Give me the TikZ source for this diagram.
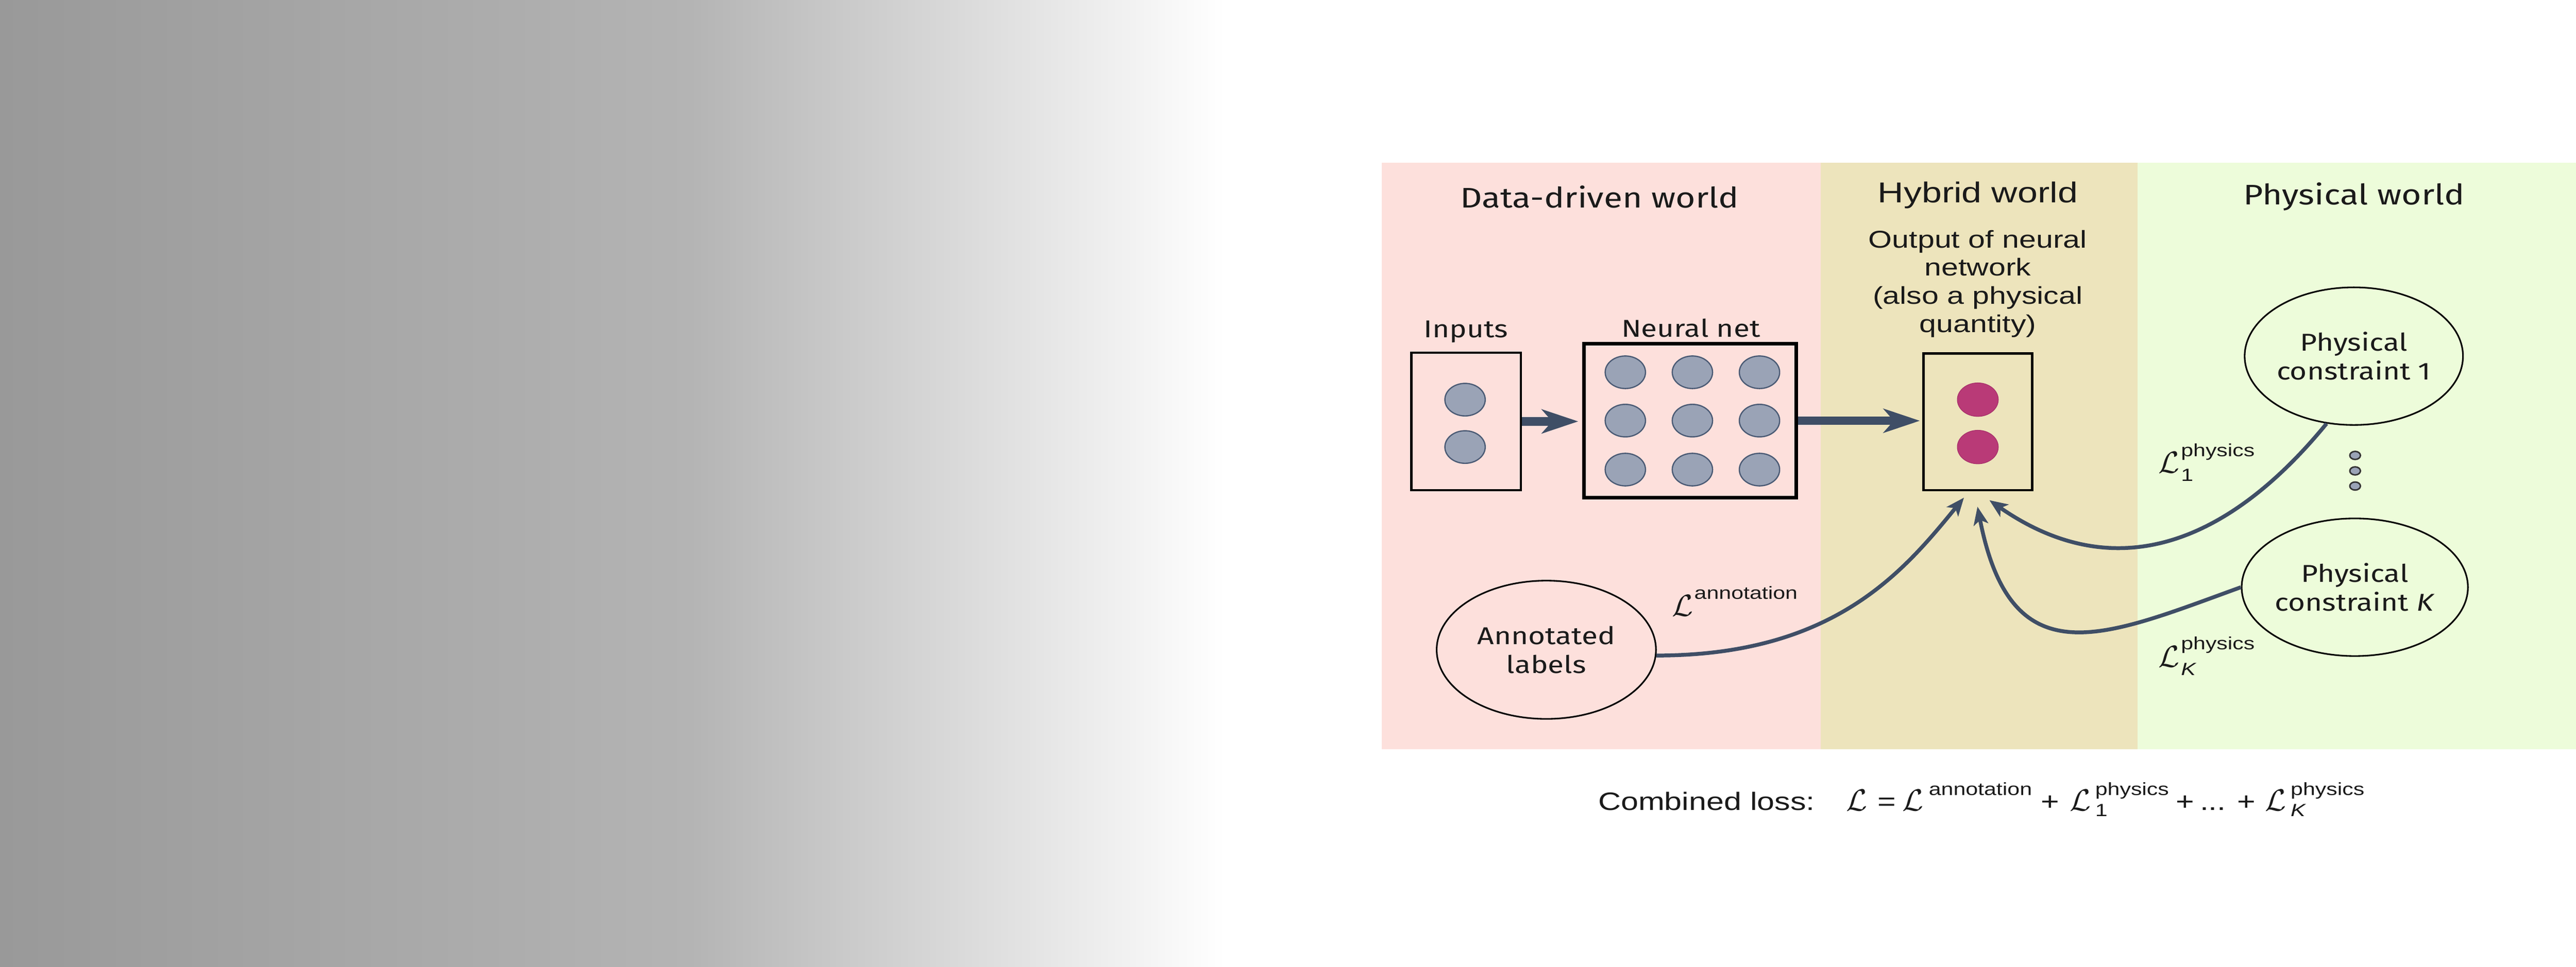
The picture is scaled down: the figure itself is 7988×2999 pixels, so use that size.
\documentclass[tikz,border=0pt]{standalone}
\DeclareFontFamily{OMS}{cmsy}{\skewchar\font48}
\DeclareFontShape{OMS}{cmsy}{m}{n}{<->cmsy10}{}
\DeclareFontShape{OMS}{cmsy}{b}{n}{<->cmbsy10}{}
\usepackage{fontspec}
\newfontfamily\ffira[FakeStretch=1.2]{Fira Sans}
\newfontfamily\farial[FakeStretch=1.25]{Liberation Sans}
\usetikzlibrary{arrows.meta,shapes.geometric}
\definecolor{pinkbg}{HTML}{FDE0DC}
\definecolor{hybbg}{HTML}{EDE4BC}
\definecolor{grnbg}{HTML}{EDFCDA}
\definecolor{arrowc}{HTML}{3F4E66}
\definecolor{nodefill}{HTML}{9AA3B6}
\definecolor{nodeedge}{HTML}{4A5A74}
\definecolor{magfill}{HTML}{B93A77}
\definecolor{magedge}{HTML}{A8326C}
\definecolor{txt}{HTML}{1A1A1A}
\definecolor{gA}{HTML}{999999}
\definecolor{gB}{HTML}{B4B4B4}
\newcommand\myTitle{\ffira\fontsize{25}{30}\selectfont}
\newcommand\myLabel{\ffira\fontsize{21.5}{25.4}\selectfont}
\newcommand\myHyb{\farial\fontsize{25.4}{30}\selectfont}
\newcommand\myOut{\farial\fontsize{21.5}{24.8}\selectfont}
\newcommand\myComb{\farial\fontsize{22.2}{26}\selectfont}
\newcommand\mySup{\farial\fontsize{15.6}{18}\selectfont}
\newcommand\myL{{\fontsize{27}{30}\selectfont$\mathcal{L}$}}
% #1 kern, #2 raise of superscript, #3 superscript, #4 drop of subscript, #5 subscript
\newcommand\LossSym[5]{\myL\kern#1\rlap{\raisebox{-#4}{\mySup #5}}\raisebox{#2}{\mySup #3}}
\begin{document}
\begin{tikzpicture}[x=0.1mm,y=-0.1mm,
  ttl/.style={anchor=base, inner sep=0, text=txt, font=\myTitle},
  hyb/.style={anchor=base, inner sep=0, text=txt, font=\myHyb},
  outl/.style={anchor=base, inner sep=0, text=txt, font=\myOut},
  sub/.style={anchor=base, inner sep=0, text=txt, font=\myLabel},
  comb/.style={anchor=base west, inner sep=0, text=txt, font=\myComb},
  lsym/.style={anchor=base west, inner sep=0, text=txt},
  boxn/.style={draw=black, line width=2pt, inner sep=0},
  neuron/.style={ellipse, draw=nodeedge, fill=nodefill, line width=1.1pt, minimum width=12.5mm, minimum height=10.1mm, inner sep=0},
  outneuron/.style={ellipse, draw=magedge, fill=magfill, line width=0.6pt, minimum width=12.7mm, minimum height=10.4mm, inner sep=0},
  bubble/.style={ellipse, draw=black, line width=1.4pt, text=txt, font=\myLabel, align=center, inner sep=0},
  dotn/.style={ellipse, draw=black!80, fill=nodefill, line width=1.3pt, minimum width=3.3mm, minimum height=2.5mm, inner sep=0},
  bigarrow/.style={draw=arrowc, line width=7.4pt, -{Stealth[length=32pt, width=21pt, inset=9pt]}},
  curvarrow/.style={draw=arrowc, line width=3.4pt, -{Stealth[length=16pt, width=13pt, inset=4pt]}}
]
\useasboundingbox (0,0) rectangle (7988,2999);
% background
\fill[white] (0,0) rectangle (7988,2999);
\shade[left color=gA, right color=gB] (0,0) rectangle (2140,2999);
\shade[left color=gB, right color=white] (2139,0) rectangle (3800,2999);
% panels
\fill[pinkbg] (4284,505) rectangle (5646,2325);
\fill[hybbg] (5646,505) rectangle (6629,2325);
\fill[grnbg] (6629,505) rectangle (7988,2325);
% titles
\node[ttl] (tD) at (4960,645) {Data-driven world};
\node[hyb] (tH) at (6133,629) {Hybrid world};
\node[ttl] (tP) at (7300,635) {Physical world};
\node[outl] (o1) at (6133,769) {Output of neural};
\node[outl] (o2) at (6133,855) {network};
\node[outl] (o3) at (6133,944) {(also a physical};
\node[outl] (o4) at (6133,1031) {quantity)};
\node[sub] (tI) at (4546,1047) {Inputs};
\node[sub] (tN) at (5243,1045) {Neural net};
% boxes
\node[boxn, minimum width=34mm, minimum height=42.6mm] (inbox) at (4546.5,1307.5) {};
\node[boxn, line width=3.1pt, minimum width=65.8mm, minimum height=47.8mm] (nnbox) at (5240.5,1305.5) {};
\node[boxn, minimum width=33.7mm, minimum height=42.4mm] (outbox) at (6133,1308.5) {};
% neurons
\node[neuron] (i1) at (4543,1240) {};
\node[neuron] (i2) at (4543,1387) {};
\foreach \c/\xx in {a/5040,b/5248,c/5456}{
  \foreach \r/\yy in {1/1155,2/1305,3/1457}{
    \node[neuron] (n\c\r) at (\xx,\yy) {};
  }
}
\node[outneuron] (m1) at (6133,1240) {};
\node[outneuron] (m2) at (6133,1387) {};
% ellipses
\node[bubble, minimum width=68mm, minimum height=42.9mm] (ann) at (4795,2016) {Annotated\\labels};
\node[bubble, minimum width=67.7mm, minimum height=42.7mm] (c1) at (7299,1105) {Physical\\constraint 1};
\node[bubble, minimum width=67.9mm, minimum height=42.7mm] (cK) at (7302,1822) {Physical\\constraint \textit{K}};
% vertical dots
\node[dotn] (d1) at (7303,1413) {};
\node[dotn] (d2) at (7303,1461) {};
\node[dotn] (d3) at (7303,1508) {};
% straight arrows
\draw[bigarrow, shorten >=1.2mm] (inbox.east) -- (inbox.east -| nnbox.west);
\draw[bigarrow, shorten >=0.75mm] (nnbox.east) -- (nnbox.east -| outbox.west);
% curved arrows
\coordinate (tipA) at ([shift={(-43,20)}]outbox.south);
\coordinate (tip1) at ([shift={(36,28)}]outbox.south);
\coordinate (tipK) at ([shift={(-1,48)}]outbox.south);
\draw[curvarrow] (ann.-3) .. controls +(550,0) and +(-189,231) .. (tipA);
\draw[curvarrow] (c1.248) .. controls +(-284,347) and +(410,285) .. (tip1);
\draw[curvarrow] (cK.west) .. controls +(-423,153) and +(105,539) .. (tipK);
% loss labels in panels
\node[lsym] (La) at (5185,1912) {\LossSym{0.8pt}{15.1pt}{annotation}{0pt}{}};
\node[lsym] (L1) at (6692,1468) {\LossSym{1.4pt}{14.8pt}{physics}{7.1pt}{1}};
\node[lsym] (LK) at (6692,2070) {\LossSym{1.4pt}{15.4pt}{physics}{7.1pt}{\itshape K}};
% combined loss
\node[comb] (cl) at (4955,2513) {Combined loss:};
\node[lsym] (cL0) at (5725,2516) {\myL};
\node[comb] (ceq) at (5822,2513) {=};
\node[lsym] (cL1) at (5898,2516) {\LossSym{4.8pt}{13.7pt}{annotation}{0pt}{}};
\node[comb] (cp1) at (6328,2513) {+};
\node[lsym] (cL2) at (6418,2516) {\LossSym{3.7pt}{13.7pt}{physics}{4.8pt}{1}};
\node[comb] (cp2) at (6747,2513) {+};
\node[comb] (cdots) at (6821,2513) {...};
\node[comb] (cp3) at (6937,2513) {+};
\node[lsym] (cL3) at (7023,2516) {\LossSym{4pt}{13.7pt}{physics}{4.8pt}{\itshape K}};
\end{tikzpicture}
\end{document}
